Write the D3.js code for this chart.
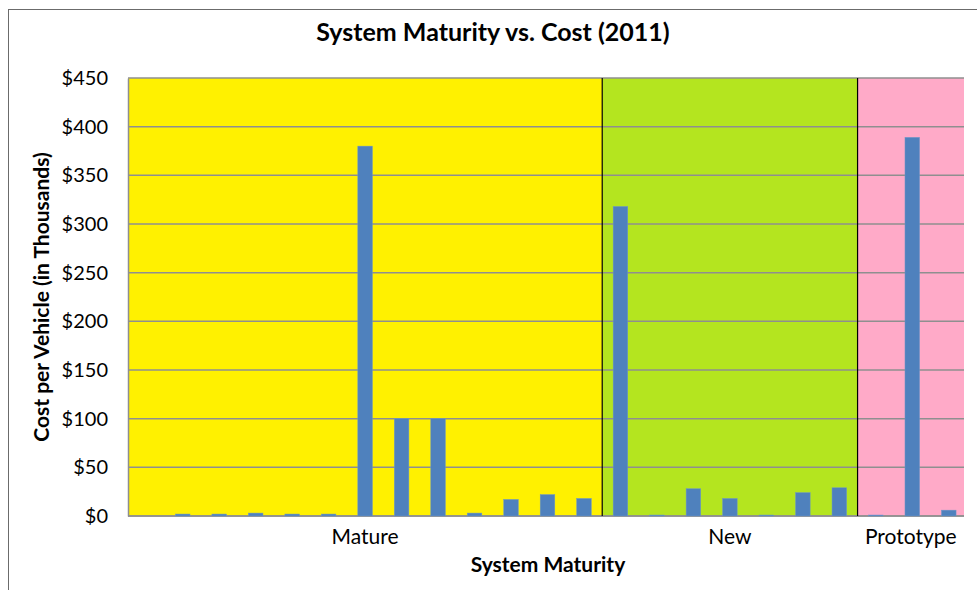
<!DOCTYPE html>
<html>
<head>
<meta charset="utf-8">
<script src="https://cdn.jsdelivr.net/npm/d3@7"></script>
<style>
  body { margin: 0; background: #fff; }
  text { font-family: Lato, "Open Sans", sans-serif; fill: #000; }
</style>
</head>
<body>
<div class="chart"></div>
<script>
// one bar per system, grouped by maturity
var categories = ['M1','M2','M3','M4','M5','M6','M7','M8','M9','M10','M11','M12','M13',
                  'N1','N2','N3','N4','N5','N6','N7',
                  'P1','P2','P3'];
var costs = [0, 2, 2, 3, 2, 2, 380, 100, 100, 3, 17, 22, 18,
             318, 1, 28, 18, 1, 24, 29,
             1, 389, 6];
var groupNames = ['Mature', 'New', 'Prototype'];
var groupSizes = [13, 7, 3];
var groupColors = ['#FFF100', '#B4E51F', '#FFAAC8'];
var yTicks = [0, 50, 100, 150, 200, 250, 300, 350, 400, 450];

const W = 977, H = 590;
const mLeft = 128, mRight = 967, mTop = 78, mBottom = 516;
const plotEnd = 964; // plot area is cut slightly short on the right

const svg = d3.select('.chart')
  .append('svg')
    .attr('width', W)
    .attr('height', H);

// outer chart frame
svg.append('rect')
  .attr('x', 8.5).attr('y', 9.5)
  .attr('width', W + 10).attr('height', H + 10)
  .attr('fill', 'none')
  .attr('stroke', '#6b6b6b');

const x = d3.scaleBand()
  .domain(categories)
  .range([mLeft, mRight])
  .paddingInner(0.6)
  .paddingOuter(0.3);

const y = d3.scaleLinear()
  .domain([0, 450])
  .range([mBottom, mTop]);

// group extents in category index
var groups = [];
var start = 0;
groupNames.forEach((g, i) => {
  groups.push({ name: g, from: start, to: start + groupSizes[i], color: groupColors[i] });
  start += groupSizes[i];
});
const step = (mRight - mLeft) / categories.length;
const gx = i => Math.min(mLeft + i * step, plotEnd);

svg.selectAll('rect.bg')
  .data(groups)
  .enter().append('rect')
    .attr('class', 'bg')
    .attr('x', d => gx(d.from))
    .attr('y', mTop)
    .attr('width', d => gx(d.to) - gx(d.from))
    .attr('height', mBottom - mTop)
    .attr('fill', d => d.color);

// gridlines
svg.selectAll('line.grid')
  .data(yTicks)
  .enter().append('line')
    .attr('class', 'grid')
    .attr('x1', mLeft).attr('x2', plotEnd)
    .attr('y1', d => y(d)).attr('y2', d => y(d))
    .attr('stroke', '#8f8f8f')
    .attr('stroke-width', 1.5);

// y axis
const yAxis = svg.append('g')
  .attr('transform', 'translate(' + mLeft + ',0)')
  .call(d3.axisLeft(y).tickValues(yTicks).tickSize(0).tickPadding(20)
    .tickFormat(d => '$' + d));
yAxis.select('.domain').attr('stroke', '#8f8f8f').attr('stroke-width', 1.5);
yAxis.selectAll('text')
  .style('font-size', '20px')
  .style('font-family', 'Lato, sans-serif')
  .attr('fill', '#000');

// x axis baseline
svg.append('line')
  .attr('x1', mLeft).attr('x2', plotEnd)
  .attr('y1', mBottom).attr('y2', mBottom)
  .attr('stroke', '#8f8f8f')
  .attr('stroke-width', 1.5);

// bars
svg.selectAll('rect.bar')
  .data(costs)
  .enter().append('rect')
    .attr('class', 'bar')
    .attr('x', (d, i) => x(categories[i]))
    .attr('y', d => y(d))
    .attr('width', x.bandwidth())
    .attr('height', d => mBottom - y(d))
    .attr('fill', '#4F81BD')
    .attr('stroke', '#6f97c8')
    .attr('stroke-width', 0.5);

// group dividers
svg.selectAll('line.div')
  .data(groups.slice(1))
  .enter().append('line')
    .attr('class', 'div')
    .attr('x1', d => gx(d.from)).attr('x2', d => gx(d.from))
    .attr('y1', mTop).attr('y2', mBottom)
    .attr('stroke', '#000')
    .attr('stroke-width', 1.2);

// group labels
svg.selectAll('text.glabel')
  .data(groups)
  .enter().append('text')
    .attr('class', 'glabel')
    .attr('x', d => (gx(d.from) + gx(d.to)) / 2)
    .attr('y', 544)
    .attr('text-anchor', 'middle')
    .style('font-size', '21px')
    .text(d => d.name);

// titles
svg.append('text')
  .attr('x', 493).attr('y', 41)
  .attr('text-anchor', 'middle')
  .style('font-size', '25px')
  .style('font-weight', 'bold')
  .text('System Maturity vs. Cost (2011)');

svg.append('text')
  .attr('x', 548).attr('y', 572)
  .attr('text-anchor', 'middle')
  .style('font-size', '21px')
  .style('font-weight', 'bold')
  .text('System Maturity');

svg.append('text')
  .attr('transform', 'translate(49,297) rotate(-90)')
  .attr('text-anchor', 'middle')
  .style('font-size', '21px')
  .style('font-weight', 'bold')
  .text('Cost per Vehicle (in Thousands)');
</script>
</body>
</html>
